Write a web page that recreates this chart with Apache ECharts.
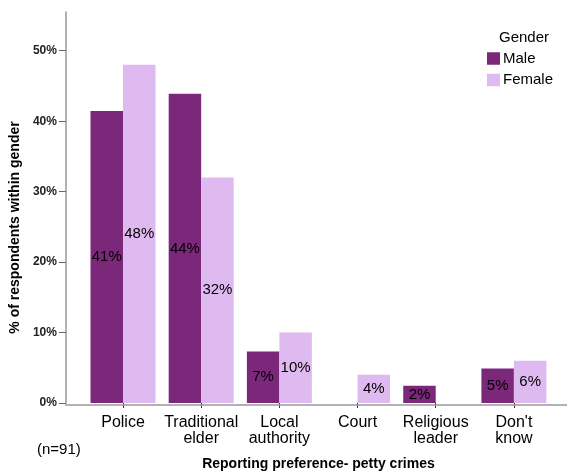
<!DOCTYPE html>
<html>
<head>
<meta charset="utf-8">
<script src="https://cdn.jsdelivr.net/npm/echarts@6/dist/echarts.min.js"></script>
<style>html,body{margin:0;padding:0;background:#fff;}#c{width:567px;height:476px;}</style>
</head>
<body>
<div id="c"></div>
<script>
var categories = ['Police', 'Traditional\nelder', 'Local\nauthority', 'Court', 'Religious\nleader', "Don't\nknow"];
var maleValues = [41.46, 43.90, 7.32, 0, 2.44, 4.88];
var femaleValues = [48.0, 32.0, 10.0, 4.0, 0, 6.0];
var yTicks = [0, 10, 20, 30, 40, 50];
var seriesNames = ['Male', 'Female'];

var FONT = '"Liberation Sans", Arial, sans-serif';
var chart = echarts.init(document.getElementById('c'), null, {renderer: 'canvas'});
var labelFmt = function (p) { return p.value > 0 ? Math.round(p.value) + '%' : ''; };
chart.setOption({
  animation: false,
  textStyle: {fontFamily: FONT},
  title: {
    text: 'Gender', left: 494, top: 25,
    textStyle: {fontFamily: FONT, fontSize: 15, fontWeight: 'normal', color: '#000'}
  },
  legend: {
    data: seriesNames, orient: 'vertical', left: 487, top: 51,
    itemWidth: 13, itemHeight: 12.5, itemGap: 6.5, icon: 'rect', padding: 0,
    textStyle: {fontFamily: FONT, fontSize: 15, color: '#000', padding: [0, 0, 0, -2]}
  },
  grid: {left: 83, right: 14, top: 12, bottom: 71, containLabel: false},
  xAxis: {
    type: 'category', data: categories,
    name: 'Reporting preference- petty crimes', nameLocation: 'middle', nameGap: 54,
    nameTextStyle: {fontFamily: FONT, fontSize: 14, fontWeight: 'bold', color: '#000'},
    axisLine: {show: false},
    axisTick: {show: true, alignWithLabel: true, length: 5, lineStyle: {color: '#333'}},
    axisLabel: {margin: 12, fontFamily: FONT, fontSize: 16, lineHeight: 16, color: '#000', interval: 0}
  },
  yAxis: {
    type: 'value', min: 0, max: 55.5, interval: 10, offset: 18,
    name: '% of respondents within gender', nameLocation: 'middle', nameGap: 40,
    nameTextStyle: {fontFamily: FONT, fontSize: 14, fontWeight: 'bold', color: '#000', padding: [0, 40, 0, 0]},
    axisLine: {show: true, lineStyle: {color: '#999', width: 1.5}},
    axisTick: {show: true, length: 7, customValues: yTicks, lineStyle: {color: '#666'}},
    axisLabel: {customValues: yTicks, margin: 9, fontFamily: FONT, fontSize: 12, fontWeight: 'bold', color: '#222',
      formatter: '{value}%'},
    splitLine: {show: false}
  },
  graphic: [
    {type: 'line', shape: {x1: 65, y1: 405, x2: 567, y2: 405}, style: {stroke: '#999', lineWidth: 1.5}, z: 50},
    {type: 'text', left: 37, top: 442, style: {text: '(n=91)', font: '15px ' + FONT, fill: '#000'}}
  ],
  series: [
    {
      name: seriesNames[0], type: 'bar', data: maleValues, barWidth: 32.5, barGap: '0%',
      itemStyle: {color: '#7b287b'},
      label: {show: true, position: 'inside', formatter: labelFmt, color: '#000', fontSize: 15, fontFamily: FONT}
    },
    {
      name: seriesNames[1], type: 'bar', data: femaleValues, barWidth: 32.5, barGap: '0%',
      itemStyle: {color: '#dfbaf0'},
      label: {show: true, position: 'inside', formatter: labelFmt, color: '#000', fontSize: 15, fontFamily: FONT}
    }
  ]
});
</script>
</body>
</html>
